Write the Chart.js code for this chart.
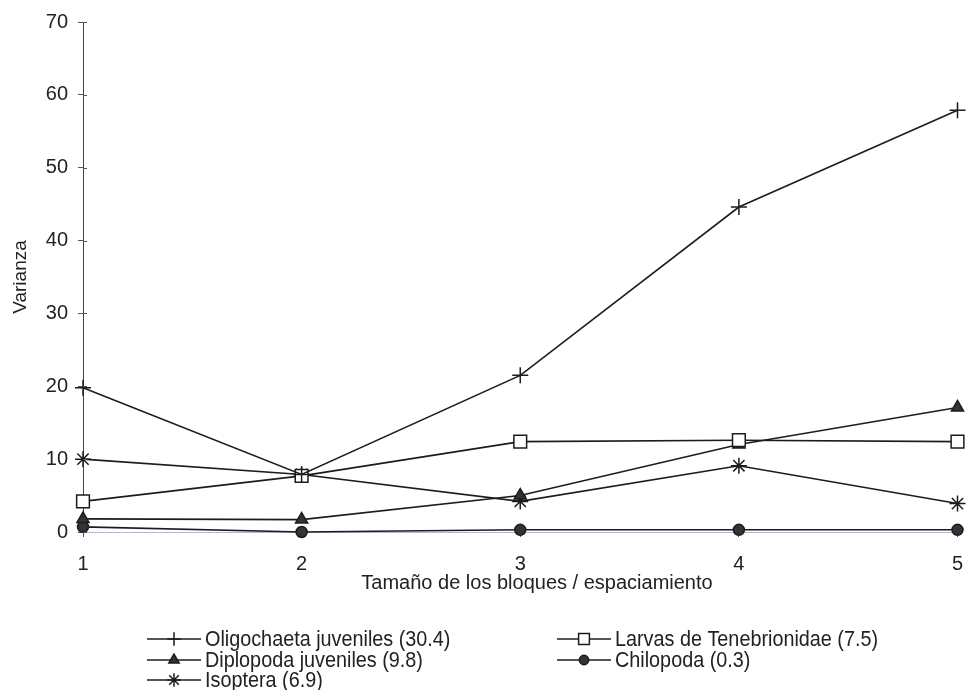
<!DOCTYPE html>
<html lang="es">
<head>
  <meta charset="UTF-8">
  <title>Varianza por tamaño de bloque</title>
  <script src="https://cdn.jsdelivr.net/npm/chart.js"></script>
  <style>
    body { margin: 0; background: #fff; }
    canvas { display: block; }
  </style>
</head>
<body>
  <canvas id="varChart" width="968" height="690"></canvas>

<script>
  // block size / spacing
  const blockSizes = [1, 2, 3, 4, 5];
  const yTicks = [0, 10, 20, 30, 40, 50, 60, 70];

  const oligochaeta = [19.8, 7.9, 21.5, 44.6, 57.9];
  const larvas      = [4.2, 7.7, 12.4, 12.6, 12.4];
  const diplopoda   = [1.8, 1.7, 5.0, 12.0, 17.1];
  const chilopoda   = [0.7, 0.0, 0.3, 0.3, 0.3];
  const isoptera    = [10.0, 7.9, 4.2, 9.1, 3.9];

  const seriesNames = [
    'Oligochaeta juveniles (30.4)',
    'Larvas de Tenebrionidae (7.5)',
    'Diplopoda juveniles (9.8)',
    'Chilopoda (0.3)',
    'Isoptera (6.9)'
  ];

  const ink = '#1c1c1c';
  const font = "'Liberation Sans', Arial, sans-serif";

  function pts(vals) {
    return vals.map((v, i) => ({ x: blockSizes[i], y: v }));
  }

  function makeSet(label, vals, style, radius, fill) {
    return {
      label,
      data: pts(vals),
      borderColor: ink,
      borderWidth: 1.6,
      pointStyle: style,
      pointRadius: radius,
      pointHoverRadius: radius,
      pointBackgroundColor: fill,
      pointBorderColor: ink,
      pointBorderWidth: 1.5,
      tension: 0,
      clip: false
    };
  }

  const datasets = [
    makeSet(seriesNames[0], oligochaeta, 'cross', 8, ink),
    makeSet(seriesNames[1], larvas, 'rect', 9, '#fff'),
    makeSet(seriesNames[2], diplopoda, 'triangle', 7, '#333'),
    makeSet(seriesNames[3], chilopoda, 'circle', 5.5, '#333'),
    makeSet(seriesNames[4], isoptera, 'star', 8, ink)
  ];

  // legend in two columns + x title placed like the original
  const legendCols = [147, 557];
  const legendRows = [639, 660, 680];
  const legendSlots = [[0, 0], [1, 0], [0, 1], [1, 1], [0, 2]];

  const extras = {
    id: 'extras',
    afterDraw(chart) {
      const ctx = chart.ctx;
      const ys = chart.scales.y;
      ctx.save();

      // y ticks also poke inside the axis
      ctx.strokeStyle = '#555';
      ctx.lineWidth = 1;
      yTicks.forEach(v => {
        const py = Math.round(ys.getPixelForValue(v)) + 0.5;
        ctx.beginPath();
        ctx.moveTo(ys.right, py);
        ctx.lineTo(ys.right + 4, py);
        ctx.stroke();
      });

      ctx.fillStyle = '#222';
      ctx.font = '20px ' + font;
      ctx.textAlign = 'center';
      ctx.textBaseline = 'middle';
      ctx.fillText('Tamaño de los bloques / espaciamiento', 537, 583);

      chart.data.datasets.forEach((ds, i) => {
        const [c, r] = legendSlots[i];
        const x0 = legendCols[c], y = legendRows[r];
        ctx.strokeStyle = ink;
        ctx.lineWidth = 1.6;
        ctx.beginPath();
        ctx.moveTo(x0, y);
        ctx.lineTo(x0 + 54, y);
        ctx.stroke();
        ctx.fillStyle = ds.pointBackgroundColor;
        ctx.lineWidth = 1.5;
        Chart.helpers.drawPoint(ctx, {
          pointStyle: ds.pointStyle,
          radius: ds.pointRadius * 0.85,
          rotation: 0,
          borderWidth: 1.5
        }, x0 + 27, y);

        // narrow lettering as in the original legend
        ctx.save();
        ctx.translate(x0 + 58, y);
        ctx.scale(0.9, 1);
        ctx.fillStyle = '#222';
        ctx.font = '22px ' + font;
        ctx.textAlign = 'left';
        ctx.fillText(ds.label, 0, 1);
        ctx.restore();
      });
      ctx.restore();
    }
  };

  new Chart(document.getElementById('varChart'), {
    type: 'line',
    data: { datasets },
    plugins: [extras],
    options: {
      responsive: false,
      animation: false,
      layout: { padding: { top: 20, right: 9, left: 0, bottom: 118 } },
      plugins: {
        legend: { display: false },
        tooltip: { enabled: false }
      },
      scales: {
        x: {
          type: 'linear',
          min: 1,
          max: 5,
          afterFit: s => { s.height = 40; s.paddingLeft = 0; s.paddingRight = 9; },
          afterBuildTicks: s => { s.ticks = blockSizes.map(v => ({ value: v })); },
          ticks: { color: '#222', font: { family: font, size: 20 }, padding: 15 },
          grid: { drawOnChartArea: false, drawTicks: true, tickLength: 5, color: '#555' },
          border: { color: '#b9b4d6', width: 1 }
        },
        y: {
          min: 0,
          max: 70,
          afterFit: s => { s.width = 83; },
          afterBuildTicks: s => { s.ticks = yTicks.map(v => ({ value: v })); },
          ticks: { color: '#222', font: { family: font, size: 20 }, padding: 10 },
          grid: { drawOnChartArea: false, drawTicks: true, tickLength: 5, color: '#555' },
          border: { color: '#444', width: 1 },
          title: {
            display: true,
            text: 'Varianza',
            color: '#222',
            font: { family: font, size: 19 },
            padding: { top: 9, bottom: 0 }
          }
        }
      }
    }
  });
</script>
</body>
</html>
